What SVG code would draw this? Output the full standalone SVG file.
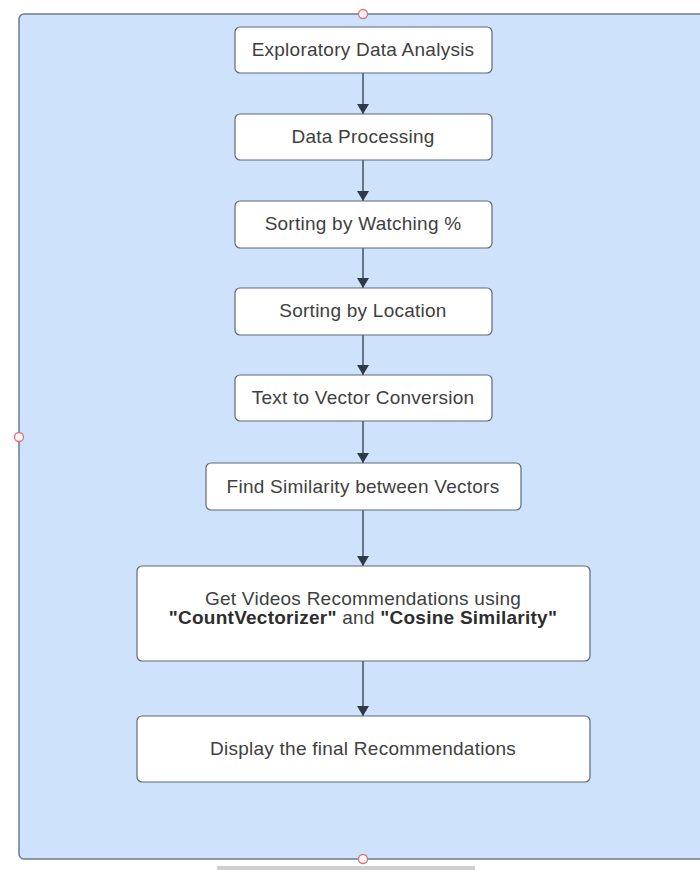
<svg xmlns="http://www.w3.org/2000/svg" width="700" height="870" viewBox="0 0 700 870">
<defs>
<style>
.box{fill:#ffffff;stroke:#5e6978;stroke-width:1.2}
.t{font-family:"Liberation Sans",Arial,sans-serif;font-size:19px;letter-spacing:0.25px;fill:#404040;text-anchor:middle}
.b{font-weight:bold;fill:#2e2e2e}
.edge{stroke:#2f3a48;stroke-width:1.3;fill:none;marker-end:url(#ah)}
.hnd{fill:#fff5f5;stroke:#d9747a;stroke-width:1.3}
</style>
<marker id="ah" viewBox="0 0 10 12" refX="10" refY="6" markerWidth="10" markerHeight="12" markerUnits="userSpaceOnUse" orient="auto">
<path d="M0,0 L10,6 L0,12 Z" fill="#2f3a48"/>
</marker>
</defs>
<rect x="0" y="0" width="700" height="870" fill="#ffffff"/>
<g id="container">
<rect x="19" y="14" width="700" height="845" rx="5" fill="#cfe2fb" stroke="#6d7b8b" stroke-width="1.5"/>
</g>
<g id="connectors">
<line class="edge" x1="363" y1="73" x2="363" y2="114"/>
<line class="edge" x1="363" y1="160" x2="363" y2="201"/>
<line class="edge" x1="363" y1="248" x2="363" y2="288"/>
<line class="edge" x1="363" y1="335" x2="363" y2="375"/>
<line class="edge" x1="363" y1="421" x2="363" y2="463"/>
<line class="edge" x1="363" y1="510" x2="363" y2="566"/>
<line class="edge" x1="363" y1="661" x2="363" y2="716"/>
</g>
<g id="n1"><rect class="box" x="235" y="27" width="257" height="46" rx="5"/><text class="t" x="363" y="56">Exploratory Data Analysis</text></g>
<g id="n2"><rect class="box" x="235" y="114" width="257" height="46" rx="5"/><text class="t" x="363" y="143">Data Processing</text></g>
<g id="n3"><rect class="box" x="235" y="201" width="257" height="47" rx="5"/><text class="t" x="363" y="230">Sorting by Watching %</text></g>
<g id="n4"><rect class="box" x="235" y="288" width="257" height="47" rx="5"/><text class="t" x="363" y="317">Sorting by Location</text></g>
<g id="n5"><rect class="box" x="235" y="375" width="257" height="46" rx="5"/><text class="t" x="363" y="404">Text to Vector Conversion</text></g>
<g id="n6"><rect class="box" x="206" y="463" width="315" height="47" rx="5"/><text class="t" x="363" y="493">Find Similarity between Vectors</text></g>
<g id="n7"><rect class="box" x="137" y="566" width="453" height="95" rx="5"/><text class="t" x="363" y="605">Get Videos Recommendations using</text><text class="t" x="363" y="624"><tspan class="b">"CountVectorizer"</tspan> and <tspan class="b">"Cosine Similarity"</tspan></text></g>
<g id="n8"><rect class="box" x="137" y="716" width="453" height="66" rx="5"/><text class="t" x="363" y="755">Display the final Recommendations</text></g>
<g id="handles">
<circle class="hnd" cx="363" cy="14" r="4.5"/>
<circle class="hnd" cx="19" cy="437" r="4.5"/>
<circle class="hnd" cx="363" cy="859" r="4.5"/>
</g>
<rect x="217" y="866" width="258" height="4" fill="#cfcfcf"/>
</svg>
